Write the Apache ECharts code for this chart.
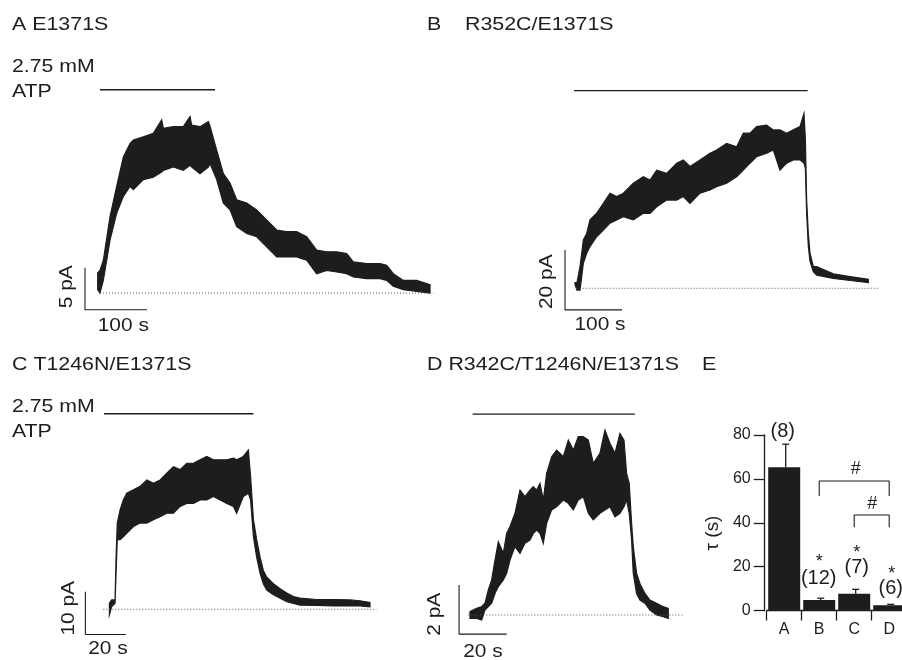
<!DOCTYPE html>
<html><head><meta charset="utf-8">
<script src="https://cdn.jsdelivr.net/npm/echarts@6/dist/echarts.min.js"></script>
<style>html,body{margin:0;padding:0;background:#fff}#c{width:902px;height:660px}</style>
</head><body><div id="c"></div>
<script>
// ---- Panel A: E1371S (time s, current pA; envelope of noisy trace)
const A_t  = [-0.5,3.2,8.6,19.4,30.1,40.9,51.6,57.0,73.1,89.2,102.7,105.4,121.5,137.6,148.4,151.1,164.5,177.9,180.6,191.4,202.2,212.9,223.7,239.8,255.9,272.0,288.2,304.3,320.4,336.6,352.7,368.8,384.9,401.1,411.8,433.3,454.8,465.6,476.3,492.5,514.0,535.5];
const A_up = [2.4,2.7,3.9,9.1,12.7,16.2,17.8,18.2,18.6,19.0,20.6,19.6,19.8,19.8,21.0,20.0,19.8,20.4,19.9,17.0,14.2,13.1,11.1,10.7,9.9,8.7,7.5,7.3,7.3,6.7,5.1,4.9,4.9,4.7,3.7,3.5,3.5,3.3,2.3,1.5,1.5,1.0];
const A_lo = [0.4,0.0,1.5,6.3,9.5,11.5,12.7,12.3,13.5,13.8,14.4,14.6,15.0,14.6,15.2,15.0,14.2,15.0,15.4,13.5,10.7,9.9,7.9,7.1,6.7,5.5,4.3,4.3,4.3,3.9,2.3,2.7,2.5,2.3,1.9,1.7,1.7,1.5,0.8,0.4,0.2,0.0];
// ---- Panel B: R352C/E1371S
const B_t  = [-3.5,0,5.3,11.1,17.0,22.8,34.5,46.2,57.9,69.6,81.3,98.8,116.4,128.1,139.8,157.3,174.9,186.5,198.2,215.8,233.3,245.0,262.6,280.1,291.8,303.5,315.2,332.7,344.4,356.1,367.8,379.5,391.2,398.2,400.6,402.9,405.8,408.8,414.6,420.5,449.7,479.0,511.1];
const B_up = [1.9,1.9,7.2,16.1,18.3,22.8,25.0,28.3,31.7,30.6,31.7,35.0,37.2,36.1,39.4,38.3,41.7,42.8,40.6,42.8,45.0,46.1,48.3,47.2,51.7,51.7,53.9,54.4,52.8,52.8,51.7,52.8,53.9,58.3,50.0,29.4,18.3,11.7,7.2,7.2,4.8,3.9,3.0];
const B_lo = [1.2,-0.6,-0.6,8.3,11.7,13.9,17.2,19.4,21.7,22.8,23.9,22.8,25.0,25.0,27.2,29.4,29.4,30.6,28.3,31.7,32.8,33.9,35.0,37.2,39.4,41.7,43.9,45.0,46.1,39.4,41.7,42.8,42.8,41.7,40.0,25.0,14.0,9.0,5.5,4.4,3.3,2.6,1.9];
// ---- Panel C: T1246N/E1371S
const C_t  = [-0.3,0.8,2.5,3.0,3.6,5.0,6.6,8.3,11.6,14.9,18.2,21.5,24.8,28.1,31.4,34.7,38.0,41.3,44.6,47.9,51.2,54.5,57.8,61.1,62.7,66.0,68.5,69.6,71.0,72.6,74.3,75.9,77.6,80.9,84.2,87.5,90.8,94.1,102.3,110.6,118.8,123.8,128.7];
const C_up = [1.4,2.2,2.2,12.2,20.2,23.3,25.6,27.2,28.0,28.8,30.3,29.5,30.3,31.9,33.4,32.7,34.2,34.2,35.0,35.8,35.0,35.0,35.0,35.4,35.0,35.8,37.3,31.1,21.0,16.3,12.2,9.1,7.5,6.0,4.8,3.8,3.0,2.6,2.3,2.3,2.2,2.0,1.6];
const C_lo = [-1.3,0.6,1.4,8.4,16.3,16.3,17.0,17.8,19.4,20.2,20.2,21.0,21.7,22.5,22.5,24.1,24.8,24.8,25.6,25.6,26.4,25.6,24.8,24.1,22.5,26.4,27.2,25.6,17.0,12.2,8.4,6.0,4.5,3.4,2.6,1.8,1.4,1.0,0.9,0.8,0.8,0.8,0.6];
// ---- Panel D: R342C/T1246N/E1371S
const D_t  = [0,2.8,4.9,6.3,7.7,9.1,10.5,11.9,14.0,15.4,16.8,18.9,21.0,23.1,25.2,26.6,28.0,29.4,30.8,32.2,34.3,36.4,39.2,41.3,43.4,45.5,47.6,49.7,51.8,54.6,56.7,58.8,60.9,63.0,64.7,65.8,66.9,67.9,68.6,70.0,71.4,73.5,75.6,78.4,81.2,83.3];
const D_up = [0.14,0.27,0.34,0.48,1.02,1.43,2.24,2.99,2.52,3.33,3.61,4.15,5.10,4.83,5.10,5.24,5.10,5.37,4.69,5.78,6.46,6.73,6.46,7.14,6.73,7.28,7.28,7.14,6.19,6.60,7.55,7.01,6.60,7.41,7.14,5.78,5.37,3.74,2.79,1.70,1.29,0.88,0.61,0.48,0.34,0.27];
const D_lo = [-0.14,-0.14,-0.20,0.20,0.34,0.48,0.88,1.16,1.43,1.70,2.24,2.79,2.52,2.93,3.06,3.33,3.47,3.33,2.93,3.74,4.29,4.42,4.69,4.56,4.29,4.69,4.83,4.15,3.88,4.15,4.29,4.42,4.01,4.15,4.42,4.69,4.15,3.06,1.70,0.88,0.61,0.48,0.20,0.0,-0.07,-0.14];
// ATP application windows [start s, end s] and baseline spans
const STIM = [[3.2,188.7],[-5.3,404.7],[-3.0,71.0],[1.1,69.3]];
const BASE = [[3.2,540.9],[-0.6,528.7],[-3.3,132],[-0.7,89.6]];
// scale bars: [pA, s]
const SCALE = [[5,100],[20,100],[10,20],[2,20]];
const SCALE_TXT = [['5 pA','100 s'],['20 pA','100 s'],['10 pA','20 s'],['2 pA','20 s']];
// ---- Panel E: tau (s)
const E_cats = ['A','B','C','D'];
const E_mean = [65.3, 4.8, 7.65, 2.37];
const E_err  = [10.5, 0.8, 2.0, 0.43];
const E_n    = ['(8)','(12)','(7)','(6)'];
const E_star = ['','*','*','*'];

const INK = '#1e1c1d';
const FONT = '"Liberation Sans", Arial, Helvetica, sans-serif';

// layout (px) per trace panel
const GRIDS = [
  {left:79.4, top:74.6, width:359.6, height:252, x:[-30,550], y:[-4,26]},
  {left:554.2, top:72.3, width:342, height:258, x:[-40,560], y:[-14,72]},
  {left:69.6, top:395.8, width:323.2, height:256.2, x:[-20,140], y:[-10,50]},
  {left:446.2, top:394.5, width:249.9, height:257.25, x:[-10,95], y:[-1.5,9]}
];
const STIM_Y = [24.2, 65.9, 45.8, 8.2];
const SB_ORIGIN = [[-21,-2],[-21,-7.2],[-12.2,-5.9],[-4.6,-0.78]];

const chart = echarts.init(document.getElementById('c'), null, {renderer:'canvas'});

const grid = GRIDS.map(g => ({left:g.left, top:g.top, width:g.width, height:g.height, containLabel:false, outerBoundsMode:'none'}));
grid.push({left:766.7, top:435, width:140, height:175.5, containLabel:false, outerBoundsMode:'none'});

const xAxis = GRIDS.map((g,i) => ({type:'value', gridIndex:i, min:g.x[0], max:g.x[1], show:false}));
const yAxis = GRIDS.map((g,i) => ({type:'value', gridIndex:i, min:g.y[0], max:g.y[1], show:false}));
xAxis.push({type:'category', gridIndex:4, data:E_cats, boundaryGap:true,
  axisLine:{show:true, lineStyle:{color:INK, width:1.3}},
  axisTick:{show:true, interval:0, alignWithLabel:false, inside:false, length:10, lineStyle:{color:INK, width:1.3}},
  axisLabel:{show:true, interval:0, color:INK, fontSize:16, fontFamily:FONT, margin:11}});
yAxis.push({type:'value', gridIndex:4, min:0, max:80, interval:20, offset:2,
  axisLine:{show:true, lineStyle:{color:INK, width:1.3}},
  axisTick:{show:true, inside:false, length:11, lineStyle:{color:INK, width:1.3}},
  axisLabel:{color:INK, fontSize:16, fontFamily:FONT, margin:14},
  splitLine:{show:false}});

function band(i, t, up, lo){
  return {type:'custom', xAxisIndex:i, yAxisIndex:i, data:[[t[0], up[0]]], silent:true, clip:false,
    renderItem:(params, api) => {
      const n = Math.min(t.length, up.length, lo.length);
      const pts = [];
      for (let k=0;k<n;k++) pts.push(api.coord([t[k], up[k]]));
      for (let k=n-1;k>=0;k--) pts.push(api.coord([t[k], lo[k]]));
      return {type:'polygon', shape:{points:pts}, style:{fill:INK, stroke:INK, lineWidth:1.2, lineJoin:'miter'}};
    }};
}
function seg(i, data, style){
  return {type:'line', xAxisIndex:i, yAxisIndex:i, data, symbol:'none', silent:true, animation:false,
    lineStyle:Object.assign({color:INK, width:1.1}, style||{})};
}
// text annotations anchored in the bar chart's data coordinates: items [catIndex, value, dxPx, text]
function notes(items, size){
  return {type:'custom', xAxisIndex:4, yAxisIndex:4, silent:true, clip:false,
    data:items.map(d => [d[0], d[1], d[2]]),
    renderItem:(params, api) => {
      const p = api.coord([api.value(0), api.value(1)]);
      return {type:'text', x:p[0] + api.value(2), y:p[1],
        style:{text:items[params.dataIndex][3], fill:INK, font:size+'px '+FONT, align:'center', verticalAlign:'middle'}};
    }};
}

const series = [];
[[A_t,A_up,A_lo],[B_t,B_up,B_lo],[C_t,C_up,C_lo],[D_t,D_up,D_lo]].forEach((d,i) => {
  series.push(seg(i, [[BASE[i][0],0],[BASE[i][1],0]], {type:[1,2], width:1, color:'#555'}));
  series.push(band(i, d[0], d[1], d[2]));
  series.push(seg(i, [[STIM[i][0],STIM_Y[i]],[STIM[i][1],STIM_Y[i]]], {width:1.4}));
  const o = SB_ORIGIN[i];
  series.push(seg(i, [[o[0], o[1]+SCALE[i][0]],[o[0], o[1]],[o[0]+SCALE[i][1], o[1]]], {width:1.1}));
});

// Panel E
series.push({type:'bar', xAxisIndex:4, yAxisIndex:4, data:E_mean, barWidth:32, itemStyle:{color:INK}, silent:true});
series.push({type:'custom', xAxisIndex:4, yAxisIndex:4, silent:true,
  data:E_mean.map((m,i)=>[i, m, m+E_err[i]]),
  renderItem:(params, api) => {
    const p0 = api.coord([api.value(0), api.value(1)]);
    const p1 = api.coord([api.value(0), api.value(2)]);
    const x = p0[0] + 1.5;
    return {type:'group', children:[
      {type:'line', shape:{x1:x, y1:p0[1], x2:x, y2:p1[1]}, style:{stroke:INK, lineWidth:1.3}},
      {type:'line', shape:{x1:x-3.5, y1:p1[1], x2:x+3.5, y2:p1[1]}, style:{stroke:INK, lineWidth:1.3}}
    ]};
  }});
const nPos = [81.5, 14.8, 19.5, 10.0];
const nDx = [-1.5, -0.5, 2.5, 1.5];
const sPos = [0, 22.2, 26.3, 16.8];
const sDx = [0, 0, 2.5, 2.5];
series.push(notes(E_n.map((s,i)=>[i, nPos[i], nDx[i], s]), 20));
series.push(notes(E_star.map((s,i)=>[i, sPos[i], sDx[i], s]).filter(d=>d[3]), 18));
// significance brackets (#)
series.push(seg(4, [[1,52.2],[1,59.0],[3,59.0],[3,52.2]], {width:1.1}));
series.push(seg(4, [[2,37.9],[2,43.5],[3,43.5],[3,37.9]], {width:1.1}));
series.push(notes([[2, 64.4, 1.5, '#'],[2, 48.6, 18, '#']], 18));

function txt(x, y, s, size, sx, opt){
  return Object.assign({type:'text', x, y, scaleX:sx, silent:true,
    style:{text:s, fill:INK, font:size+'px '+FONT, align:'left', verticalAlign:'middle'}}, opt||{});
}
function rtxt(x, y, s, size, sx){
  return {type:'text', x, y, rotation:Math.PI/2, scaleX:sx, silent:true,
    style:{text:s, fill:INK, font:size+'px '+FONT, align:'center', verticalAlign:'middle'}};
}
const T = 18.6, TS = 1.15;
const elements = [
  txt(12, 25, 'A E1371S', T, TS),
  txt(12, 66.7, '2.75 mM', 19, 1.12),
  txt(12, 92, 'ATP', 19, 1.12),
  txt(427, 25, 'B', T, TS),
  txt(465, 25, 'R352C/E1371S', T, TS),
  txt(12, 365, 'C T1246N/E1371S', T, TS),
  txt(12, 406.7, '2.75 mM', 19, 1.12),
  txt(12, 431.7, 'ATP', 19, 1.12),
  txt(427, 365, 'D R342C/T1246N/E1371S', T, TS),
  txt(702, 365, 'E', T, TS),
  rtxt(713.3, 533, 'τ (s)', 18, 1.05)
];
const vPos = [[67.2,286.7],[546.5,281.7],[68.5,608.3],[435.2,614.2]];
const hPos = [[123.3,325.8],[600,325],[108,649.2],[483,651.7]];
SCALE_TXT.forEach((s,i) => {
  elements.push(rtxt(vPos[i][0], vPos[i][1], s[0], 19, 1.1));
  const e = txt(hPos[i][0], hPos[i][1], s[1], 19, 1.1);
  e.style.align = 'center';
  elements.push(e);
});

chart.setOption({
  animation:false,
  backgroundColor:'#fff',
  grid, xAxis, yAxis, series,
  graphic:{elements}
});
</script></body></html>
